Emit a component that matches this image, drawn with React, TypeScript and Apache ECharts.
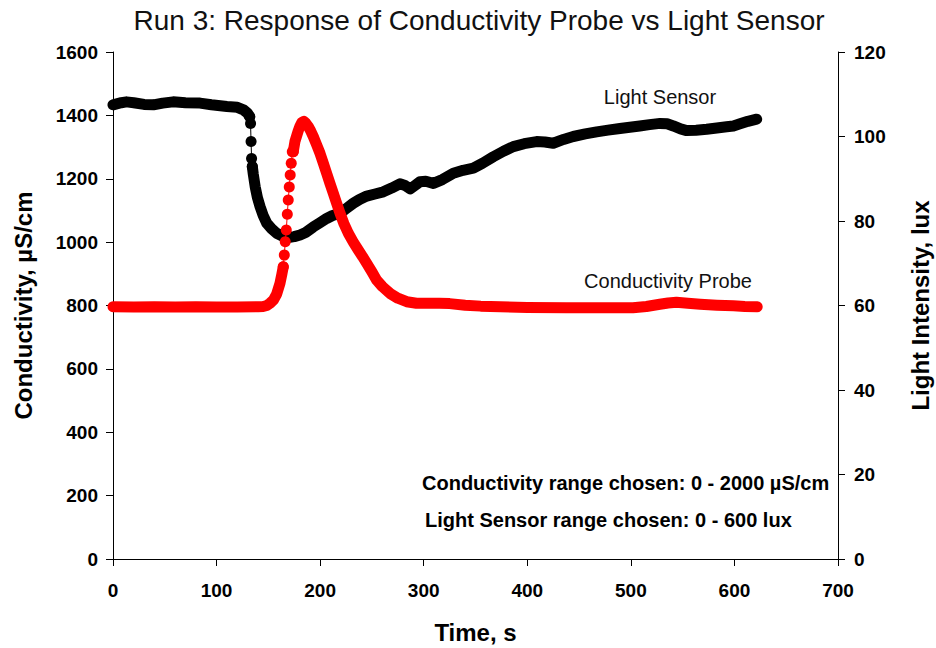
import React, { useEffect, useRef } from "react";
import * as echarts from "echarts";

// ---- Data ----
const xTicks = [0, 100, 200, 300, 400, 500, 600, 700];
const condTicks = [0, 200, 400, 600, 800, 1000, 1200, 1400, 1600];
const luxTicks = [0, 20, 40, 60, 80, 100, 120];

// Conductivity (µS/cm) – flat start and first part of the rise
const condTimeA = [0, 20, 40, 60, 80, 100, 120, 140, 145, 148.5, 151.6, 155, 158, 161.2, 163, 164.4];
const condValueA = [796, 795, 796, 795, 796, 795, 795, 796, 797, 800, 807, 818, 836, 870, 898, 922];
// Conductivity – separated points on the steep rise
const condTimeB = [164.4, 165.4, 166.3, 167.3, 168.3, 169.2, 170.2, 171.1, 172.1, 173.1, 174.0];
const condValueB = [922, 959, 1001, 1038, 1088, 1133, 1174, 1212, 1249, 1285, 1285];
// Conductivity – peak, decay and tail
const condTimeC = [174, 175.7, 177.4, 178.9, 180.5, 182.2, 184.4, 186, 188.5, 191, 193.4, 196.5, 199.9, 203, 206.3, 209.5, 212.7, 216, 219.2, 223, 227.2, 232, 236.8, 241, 245, 250, 254.6, 260, 267.5, 275, 283.6, 293, 303, 315, 325, 340, 355, 374, 400, 438, 470, 502, 515, 528, 536, 544, 555, 567, 583, 599, 610, 622];
const condValueC = [1285, 1318, 1336, 1352, 1366, 1377, 1381, 1376, 1365, 1350, 1333, 1308, 1280, 1250, 1217, 1185, 1154, 1122, 1091, 1058, 1028, 1000, 975, 954, 933, 906, 880, 860, 838, 823, 812, 807, 807, 807, 806, 801, 798, 796, 794, 793, 793, 793, 797, 804, 808, 810, 807, 804, 801, 799, 797, 796];

// Light sensor (lux)
const lightTimeA = [0, 8, 13, 20, 30, 39, 48, 58, 70, 84, 95, 110, 120, 126, 130, 132];
const lightValueA = [107.5, 108.0, 108.2, 108.0, 107.6, 107.5, 107.9, 108.2, 108.0, 107.9, 107.5, 107.1, 106.9, 106.3, 105.5, 104.7];
const lightTimeB = [132, 132.8, 133.3, 133.8, 134.5];
const lightValueB = [104.7, 103.1, 98.8, 94.8, 92.9];
const lightTimeC = [134.5, 135.5, 137.3, 139.5, 142, 145, 148.4, 153, 158, 163, 169.3, 175, 180.6, 186, 193.4, 200, 206.3, 212, 219.2, 225, 232, 238, 245, 253, 261, 269, 277, 282, 287, 292, 296.4, 302, 309.3, 318, 328.6, 338, 347.9, 357, 367.2, 377, 386.5, 397, 409, 417, 425, 435, 444.4, 456, 467, 478, 489.5, 499, 508.6, 518, 528.2, 535, 541, 548, 553.9, 563, 573.2, 583, 592.5, 599, 605.4, 613, 621.5];
const lightValueC = [92.9, 91.0, 88.1, 85.5, 83.4, 81.3, 79.5, 78.2, 77.1, 76.5, 76.1, 76.3, 76.7, 77.3, 78.6, 79.6, 80.6, 81.3, 81.8, 82.9, 84.2, 85.1, 85.9, 86.4, 86.9, 87.8, 88.8, 88.4, 87.6, 88.5, 89.3, 89.4, 88.9, 89.8, 91.3, 92.0, 92.5, 93.7, 95.2, 96.5, 97.6, 98.3, 98.8, 98.7, 98.4, 99.3, 100.0, 100.6, 101.1, 101.5, 101.9, 102.2, 102.5, 102.8, 103.1, 103.0, 102.5, 101.8, 101.4, 101.5, 101.7, 102.0, 102.3, 102.5, 103.0, 103.6, 104.1];

const pairs = (t: number[], v: number[]) => t.map((x, i) => [x, v[i]]);

const FONT = '"Liberation Sans", Arial, Helvetica, sans-serif';
const RED = "#ff0000";
const BLACK = "#000000";

function thick(name: string, data: number[][], color: string, yAxisIndex: number, z: number) {
  return {
    name,
    type: "line",
    yAxisIndex,
    data,
    showSymbol: false,
    symbol: "none",
    silent: true,
    z,
    lineStyle: { color, width: 11, cap: "round", join: "round" },
  };
}
function beads(name: string, data: number[][], color: string, yAxisIndex: number, z: number) {
  return {
    name,
    type: "line",
    yAxisIndex,
    data,
    showSymbol: true,
    symbol: "circle",
    symbolSize: 11,
    silent: true,
    z,
    itemStyle: { color },
    lineStyle: { color, width: 1 },
  };
}

export default function App() {
  const ref = useRef<HTMLDivElement>(null);
  useEffect(() => {
    document.body.style.margin = "0";
    if (!ref.current) return;
    const chart = echarts.init(ref.current, null, { renderer: "svg" });
    const axisCommon = {
      axisLine: { show: true, lineStyle: { color: BLACK, width: 1 } },
      axisTick: { show: true, inside: false, length: 7, lineStyle: { color: BLACK } },
      splitLine: { show: false },
    };
    const plain = (v: number) => String(v);
    chart.setOption({
      animation: false,
      backgroundColor: "#ffffff",
      grid: { left: 113, top: 52, width: 725, height: 507, containLabel: false, outerBoundsMode: "none" },
      xAxis: {
        type: "value",
        min: xTicks[0],
        max: xTicks[xTicks.length - 1],
        interval: 100,
        ...axisCommon,
        axisLabel: { color: BLACK, fontFamily: FONT, fontWeight: "bold", fontSize: 19, margin: 22, formatter: plain },
        name: "Time, s",
        nameLocation: "middle",
        nameGap: 61,
        nameTextStyle: { color: BLACK, fontFamily: FONT, fontWeight: "bold", fontSize: 24, verticalAlign: "top" },
      },
      yAxis: [
        {
          type: "value",
          position: "left",
          min: condTicks[0],
          max: condTicks[condTicks.length - 1],
          interval: 200,
          ...axisCommon,
          axisLabel: { color: BLACK, fontFamily: FONT, fontWeight: "bold", fontSize: 19, margin: 15, formatter: plain },
          name: "Conductivity, µS/cm",
          nameLocation: "middle",
          nameRotate: 90,
          nameGap: 78,
          nameTextStyle: { color: BLACK, fontFamily: FONT, fontWeight: "bold", fontSize: 24 },
        },
        {
          type: "value",
          position: "right",
          min: luxTicks[0],
          max: luxTicks[luxTicks.length - 1],
          interval: 20,
          ...axisCommon,
          axisLabel: { color: BLACK, fontFamily: FONT, fontWeight: "bold", fontSize: 19, margin: 16, formatter: plain },
          name: "Light Intensity, lux",
          nameLocation: "middle",
          nameRotate: 90,
          nameGap: 70,
          nameTextStyle: { color: BLACK, fontFamily: FONT, fontWeight: "bold", fontSize: 24 },
        },
      ],
      series: [
        thick("Light Sensor A", pairs(lightTimeA, lightValueA), BLACK, 1, 2),
        beads("Light Sensor B", pairs(lightTimeB, lightValueB), BLACK, 1, 2),
        thick("Light Sensor C", pairs(lightTimeC, lightValueC), BLACK, 1, 2),
        thick("Conductivity Probe A", pairs(condTimeA, condValueA), RED, 0, 3),
        beads("Conductivity Probe B", pairs(condTimeB, condValueB), RED, 0, 3),
        thick("Conductivity Probe C", pairs(condTimeC, condValueC), RED, 0, 3),
      ],
      graphic: [
        {
          type: "text",
          x: 479,
          y: 20,
          style: { text: "Run 3: Response of Conductivity Probe vs Light Sensor", fontFamily: FONT, fontSize: 28, fill: "#111", align: "center", verticalAlign: "middle" },
        },
        {
          type: "text",
          x: 660,
          y: 97,
          style: { text: "Light Sensor", fontFamily: FONT, fontSize: 20, fill: "#111", align: "center", verticalAlign: "middle" },
        },
        {
          type: "text",
          x: 668,
          y: 281,
          style: { text: "Conductivity Probe", fontFamily: FONT, fontSize: 20, fill: "#111", align: "center", verticalAlign: "middle" },
        },
        {
          type: "text",
          x: 422,
          y: 483,
          style: { text: "Conductivity range chosen: 0 - 2000 µS/cm", fontFamily: FONT, fontWeight: "bold", fontSize: 20, fill: BLACK, align: "left", verticalAlign: "middle" },
        },
        {
          type: "text",
          x: 425,
          y: 520,
          style: { text: "Light Sensor range chosen: 0 - 600 lux", fontFamily: FONT, fontWeight: "bold", fontSize: 20, fill: BLACK, align: "left", verticalAlign: "middle" },
        },
      ],
    });
    return () => chart.dispose();
  }, []);
  return <div ref={ref} style={{ width: 936, height: 648 }} />;
}
